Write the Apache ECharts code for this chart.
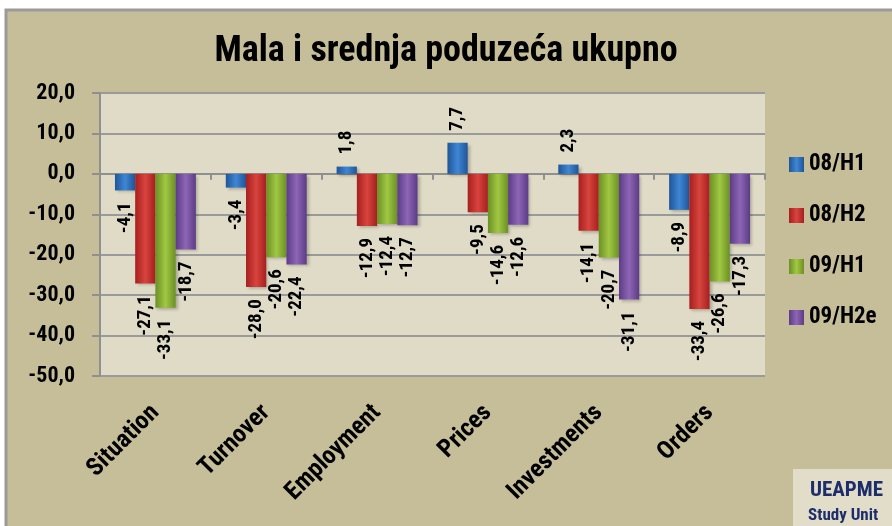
<!DOCTYPE html>
<html>
<head>
<meta charset="utf-8">
<script src="https://cdn.jsdelivr.net/npm/echarts@6/dist/echarts.min.js"></script>
<style>
html, body { margin: 0; padding: 0; background: #fff; }
#chart { width: 892px; height: 526px; }
</style>
</head>
<body>
<div id="chart"></div>
<script>
var categories = ['Situation', 'Turnover', 'Employment', 'Prices', 'Investments', 'Orders'];
var h1_08 = [-4.1, -3.4, 1.8, 7.7, 2.3, -8.9];
var h2_08 = [-27.1, -28.0, -12.9, -9.5, -14.1, -33.4];
var h1_09 = [-33.1, -20.6, -12.4, -14.6, -20.7, -26.6];
var h2_09e = [-18.7, -22.4, -12.7, -12.6, -31.1, -17.3];
var seriesNames = ['08/H1', '08/H2', '09/H1', '09/H2e'];

// Roboto u condensed varijanti umjesto Arial Narrow
var font = "Roboto, 'Liberation Sans', sans-serif";
var chart = echarts.init(document.getElementById('chart'));

function fmt(v) {
	return v.toFixed(1).replace('.', ',');
}
function grad(dark, light) {
	return new echarts.graphic.LinearGradient(0, 0, 1, 0, [
		{ offset: 0, color: dark },
		{ offset: 0.5, color: light },
		{ offset: 1, color: dark }
	]);
}
// pozitivne vrijednosti iznad, negativne ispod stupca
function barData(arr) {
	return arr.map(function (v) {
		return { value: v, label: { align: v < 0 ? 'right' : 'left' } };
	});
}
function makeSeries(name, arr, dark, light) {
	return {
		name: name,
		type: 'bar',
		xAxisIndex: 0,
		barGap: '0%',
		barCategoryGap: '27%',
		data: barData(arr),
		itemStyle: {
			color: grad(dark, light),
			shadowColor: 'rgba(0,0,0,0.25)',
			shadowBlur: 3,
			shadowOffsetX: 2,
			shadowOffsetY: 2
		},
		label: {
			show: true,
			position: 'outside',
			rotate: 90,
			verticalAlign: 'middle',
			distance: 12,
			color: '#000',
			fontFamily: font,
			fontStyle: 'condensed',
			fontWeight: 'bold',
			fontSize: 19,
			formatter: function (p) { return fmt(p.value); }
		}
	};
}

var option = {
	backgroundColor: '#fff',
	animation: false,
	title: {
		text: 'Mala i srednja poduzeća ukupno',
		left: 'center',
		top: 29,
		textStyle: { fontFamily: font, fontStyle: 'condensed', fontSize: 36, fontWeight: 'bold', color: '#000' }
	},
	legend: {
		orient: 'vertical',
		left: 784,
		top: 148,
		itemWidth: 15,
		itemHeight: 15,
		itemGap: 28,
		icon: 'rect',
		data: seriesNames,
		textStyle: { fontFamily: font, fontStyle: 'condensed', fontSize: 23, fontWeight: 'bold', color: '#000' }
	},
	grid: {
		left: 100,
		top: 93,
		width: 665,
		height: 283,
		show: true,
		backgroundColor: '#dfdbc6',
		borderWidth: 0
	},
	xAxis: [{
		type: 'category',
		data: categories,
		position: 'top',
		axisLine: { onZero: true, lineStyle: { color: '#8f8f8f', width: 2 } },
		axisTick: { show: true, inside: true, length: 6, lineStyle: { color: '#8f8f8f', width: 2 } },
		axisLabel: { show: false },
		splitLine: { show: false }
	}, {
		type: 'category',
		data: categories,
		position: 'bottom',
		axisLine: { show: false },
		axisTick: { show: false },
		axisLabel: {
			rotate: 45,
			margin: 33,
			color: '#000',
			fontFamily: font,
			fontStyle: 'condensed',
			fontWeight: 'bold',
			fontSize: 25
		}
	}],
	yAxis: {
		type: 'value',
		min: -50,
		max: 20,
		interval: 10,
		axisLine: { show: true, lineStyle: { color: '#8f8f8f', width: 2 } },
		axisTick: { show: true, length: 8, lineStyle: { color: '#8f8f8f', width: 2 } },
		axisLabel: {
			margin: 25,
			color: '#000',
			fontFamily: font,
			fontStyle: 'condensed',
			fontWeight: 'bold',
			fontSize: 22,
			formatter: fmt
		},
		splitLine: { lineStyle: { color: '#9a9a9a', width: 2 } }
	},
	graphic: [{
		type: 'rect',
		z: -100,
		shape: { x: 6, y: 10, width: 900, height: 530 },
		style: { fill: '#c6bd99', stroke: '#9a9a9a', lineWidth: 3 }
	}, {
		type: 'rect',
		shape: { x: 793, y: 469, width: 110, height: 70 },
		style: { fill: '#e1ddc9' }
	}, {
		type: 'text',
		left: 810,
		top: 480,
		style: { text: 'UEAPME', fill: '#1d2d6b', font: "condensed bold 21px " + font }
	}, {
		type: 'text',
		left: 808,
		top: 507,
		style: { text: 'Study Unit', fill: '#1d2d6b', font: "condensed bold 17px " + font }
	}],
	series: [
		makeSeries(seriesNames[0], h1_08, '#1f5597', '#3f86d4'),
		makeSeries(seriesNames[1], h2_08, '#a61f1e', '#d8443e'),
		makeSeries(seriesNames[2], h1_09, '#6c8f25', '#a0c842'),
		makeSeries(seriesNames[3], h2_09e, '#5c3b85', '#8d66b6')
	]
};
chart.setOption(option);
</script>
</body>
</html>
